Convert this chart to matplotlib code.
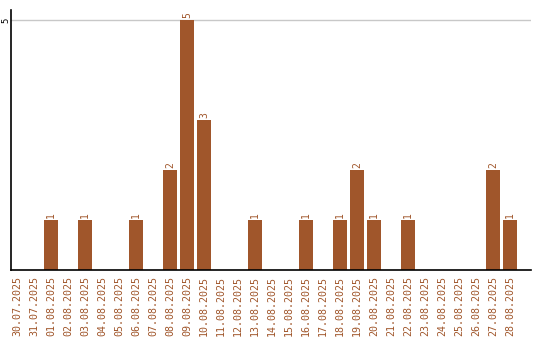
import matplotlib
matplotlib.use('Agg')
import matplotlib.pyplot as plt
import numpy as np

dates = ['30.07.2025', '31.07.2025', '01.08.2025', '02.08.2025', '03.08.2025',
         '04.08.2025', '05.08.2025', '06.08.2025', '07.08.2025', '08.08.2025',
         '09.08.2025', '10.08.2025', '11.08.2025', '12.08.2025', '13.08.2025',
         '14.08.2025', '15.08.2025', '16.08.2025', '17.08.2025', '18.08.2025',
         '19.08.2025', '20.08.2025', '21.08.2025', '22.08.2025', '23.08.2025',
         '24.08.2025', '25.08.2025', '26.08.2025', '27.08.2025', '28.08.2025']
counts = [0, 0, 1, 0, 1, 0, 0, 1, 0, 2,
          5, 3, 0, 0, 1, 0, 0, 1, 0, 1,
          2, 1, 0, 1, 0, 0, 0, 0, 2, 1]

bar_color = '#a0562b'

fig = plt.figure(figsize=(5.4, 3.4), dpi=100)
ax = fig.add_axes([11 / 540, 70 / 340, 520 / 540, 260 / 340])

x = np.arange(len(dates))
ax.bar(x, counts, width=0.8, color=bar_color, zorder=2)

# value labels above the bars
for xi, c in zip(x, counts):
    if c > 0:
        ax.text(xi, c + 0.05, str(c), rotation=90, ha='center', va='bottom',
                fontsize=7, color=bar_color, family='DejaVu Sans Mono')

ax.set_xlim(-0.35, 30.24)
ax.set_ylim(0, 5.2)
ax.axhline(5, color='#c8c8c8', linewidth=1, zorder=1)

ax.set_xticks(x)
ax.set_xticklabels(dates, rotation=90, fontsize=7.2, color=bar_color,
                   family='DejaVu Sans Mono')
ax.set_yticks([5])
ax.set_yticklabels(['5'], rotation=90, fontsize=6.5, family='DejaVu Sans Mono',
                   va='center')
ax.tick_params(axis='x', length=0, pad=4)
ax.tick_params(axis='y', length=0, pad=0.5)

for side in ['top', 'right']:
    ax.spines[side].set_visible(False)
ax.spines['left'].set_linewidth(1.2)
ax.spines['bottom'].set_linewidth(1.2)

fig.savefig('out.png', dpi=100)
